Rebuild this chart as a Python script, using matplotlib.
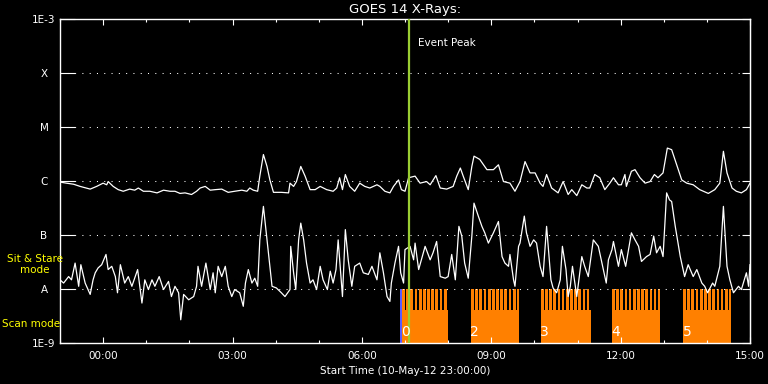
import matplotlib
matplotlib.use('Agg')
import matplotlib.pyplot as plt
import matplotlib.transforms as mtransforms
import numpy as np

# time in minutes after start time 10-May-12 23:00:00, flux as log10(W/m^2)
t_long = [0, 9, 19, 28, 42, 51, 60, 65, 67, 74, 81, 88, 97, 104, 109, 116, 125, 135, 144, 153, 160,
          167, 174, 183, 190, 195, 202, 209, 216, 225, 234, 243, 253, 260, 264, 269, 275, 278, 283, 288, 292, 297, 308, 318,
          320, 325, 329, 335, 341, 348, 355, 362, 371, 380, 385, 389, 393, 397, 403, 410, 417, 424, 431, 441, 445, 452, 459, 464, 471, 475, 480,
          485, 494, 501, 510, 515, 523, 529, 538, 547, 552, 557, 561, 568, 573, 576, 584, 594, 603, 610, 617, 626, 633, 640,
          647, 654, 661, 668, 672, 677, 684, 693, 700, 707, 712, 719, 726, 733, 737, 744, 751, 758, 765, 770, 777, 781, 786, 788, 795, 800,
          807, 814, 821, 827, 832, 839, 845, 851, 858, 865, 872, 881, 890, 902, 911, 918, 923, 928, 935, 941, 948, 955, 960]
log_long = [-6.02, -6.04, -6.06, -6.10, -6.15, -6.10, -6.04, -6.07, -6.01, -6.10, -6.16, -6.19, -6.15, -6.17, -6.13, -6.19, -6.19, -6.22, -6.17, -6.19, -6.19,
            -6.23, -6.22, -6.25, -6.19, -6.13, -6.10, -6.17, -6.16, -6.15, -6.21, -6.19, -6.17, -6.19, -6.13, -6.17, -6.19, -5.91, -5.51, -5.73, -5.98, -6.21, -6.21, -6.22,
            -6.04, -6.10, -6.01, -5.73, -5.91, -6.16, -6.16, -6.10, -6.16, -6.19, -6.13, -5.94, -6.16, -5.88, -6.10, -6.19, -6.04, -6.10, -6.13, -6.07, -6.10, -6.19, -6.22, -6.10, -5.98, -6.16, -6.19,
            -5.94, -5.91, -6.04, -6.01, -6.07, -5.90, -6.13, -6.15, -6.10, -5.91, -5.76, -5.91, -6.16, -5.73, -5.54, -5.60, -5.79, -5.79, -5.70, -6.01, -6.04, -6.19, -6.01,
            -5.64, -5.85, -5.85, -6.04, -6.10, -5.88, -6.13, -6.22, -6.01, -6.25, -6.16, -6.27, -6.07, -6.13, -6.13, -5.88, -5.94, -6.16, -6.04, -5.94, -6.07, -6.07, -5.88, -6.10, -5.82, -5.79,
            -5.94, -6.04, -6.01, -5.88, -5.94, -5.85, -5.39, -5.42, -5.70, -5.98, -6.04, -6.07, -6.16, -6.23, -6.16, -6.04, -5.45, -5.85, -6.13, -6.19, -6.22, -6.16, -6.04]

t_short = [0, 5, 12, 16, 21, 26, 29, 35, 39, 42, 46, 49, 53, 58, 64, 67, 72, 77, 80, 84, 90, 95, 100, 108, 114, 118, 123, 128, 132, 138, 144, 151, 155, 160,
           165, 168, 172, 179, 186, 190, 192, 197, 203, 209, 213, 216, 220, 225, 230, 234, 239, 243, 250, 255, 258, 262, 267, 271, 275, 278, 283, 288, 292, 295, 301, 308, 313, 320,
           321, 325, 328, 332, 335, 339, 343, 348, 352, 357, 362, 366, 372, 376, 380, 384, 387, 393, 397, 401, 406, 410, 417, 422, 429, 434, 441, 445, 450, 455, 459, 461, 466, 471, 474, 478,
           480, 487, 492, 494, 499, 508, 515, 519, 524, 529, 536, 540, 545, 550, 555, 559, 563, 568, 573, 576, 582, 587, 591, 596, 603, 610, 615, 619, 624, 626, 631, 633, 638,
           640, 646, 649, 654, 659, 663, 668, 672, 677, 683, 686, 691, 696, 699, 704, 707, 710, 713, 719, 726, 730, 735, 742, 749, 754, 760, 763, 768, 770, 777, 781, 787, 795, 800,
           805, 809, 816, 821, 826, 830, 835, 839, 844, 848, 851, 856, 863, 869, 874, 881, 886, 893, 897, 901, 908, 911, 918, 923, 928, 932, 937, 944, 948, 955, 958, 960]
log_short = [-7.83, -7.89, -7.77, -7.83, -7.52, -7.95, -7.55, -7.89, -8.01, -8.10, -7.83, -7.70, -7.61, -7.55, -7.36, -7.64, -7.58, -7.77, -8.07, -7.55, -7.89, -7.77, -7.95, -7.64, -8.26, -7.83, -8.01, -7.83, -7.95, -7.77, -8.01, -7.86, -8.14, -7.95,
             -8.07, -8.57, -8.10, -8.20, -8.14, -7.95, -7.58, -7.95, -7.52, -8.01, -7.70, -8.07, -7.58, -7.77, -7.58, -7.95, -8.14, -8.01, -8.07, -8.32, -7.89, -7.64, -7.89, -7.80, -7.95, -7.09, -6.47, -7.09, -7.58, -7.95, -7.98, -8.07, -8.14, -8.01,
             -7.21, -7.70, -8.01, -7.09, -6.78, -7.09, -7.52, -7.89, -7.83, -8.01, -7.58, -7.83, -8.01, -7.67, -7.89, -7.64, -7.09, -8.14, -6.90, -7.46, -7.95, -7.58, -7.52, -7.70, -7.73, -7.58, -7.83, -7.33, -7.70, -8.14, -8.23, -7.89, -7.52, -7.21, -7.70, -7.89,
             -7.27, -7.21, -7.46, -7.15, -7.64, -7.21, -7.46, -7.33, -7.12, -7.77, -7.80, -7.77, -7.36, -7.83, -6.84, -7.02, -7.52, -7.80, -7.02, -6.41, -6.65, -6.84, -6.96, -7.15, -6.96, -6.75, -7.40, -7.52, -7.58, -7.36, -7.83, -7.95, -7.21,
             -7.15, -6.65, -6.96, -7.21, -7.09, -7.15, -7.58, -7.77, -6.84, -7.83, -7.98, -8.07, -7.83, -7.21, -7.64, -8.14, -7.95, -7.58, -8.14, -7.40, -7.58, -7.77, -7.09, -7.21, -7.52, -7.89, -7.46, -7.27, -7.12, -7.58, -7.27, -7.58, -6.96, -7.09,
             -7.21, -7.49, -7.40, -7.36, -7.02, -7.33, -7.21, -7.40, -6.22, -6.35, -6.38, -6.84, -7.40, -7.77, -7.55, -7.77, -7.64, -7.89, -7.95, -8.07, -7.89, -7.95, -7.58, -6.47, -7.58, -7.83, -8.07, -7.95, -8.01, -7.70, -7.95, -7.55]

event_peak = 486
sit_stare = (473, 477)
scan_starts = [476, 572, 669, 768, 867]
scan_ends = [540, 639, 739, 835, 934]
scan_labels = ['0', '2', '3', '4', '5']

time_ticks = [60, 240, 420, 600, 780, 960]
time_labels = ['00:00', '03:00', '06:00', '09:00', '12:00', '15:00']
level_vals = [1e-9, 1e-8, 1e-7, 1e-6, 1e-5, 1e-4, 1e-3]
level_labels = ['1E-9', 'A', 'B', 'C', 'M', 'X', '1E-3']

orange = '#ff8000'
blue = '#5a5aff'
green = '#9acd32'
yellow = '#ffff00'

fig = plt.figure(figsize=(7.68, 3.84), dpi=100, facecolor='black')
ax = fig.add_axes([60 / 768, 41 / 384, 690 / 768, 324 / 384], facecolor='black')
trans = mtransforms.blended_transform_factory(ax.transData, ax.transAxes)

# scan mode blocks and sit & stare comb
ax.axvspan(sit_stare[0], sit_stare[1], ymin=0, ymax=0.167, color=blue, lw=0, zorder=1)
for s, e, lab in zip(scan_starts, scan_ends, scan_labels):
    ax.axvspan(s, e, ymin=0, ymax=0.102, color=orange, lw=0, zorder=1, antialiased=False)
    for st in np.arange(s, e - 1, 5.8):
        ax.axvspan(st, min(st + 3.8, e), ymin=0.1, ymax=0.167, color=orange, lw=0,
                   zorder=1, antialiased=False)
    ax.text(s - 1, 0.033, lab, transform=trans, color='white', fontsize=10,
            ha='left', va='center', zorder=4)

ax.axvline(event_peak, color=green, lw=1.6, zorder=3)
ax.text(event_peak + 12, 0.926, 'Event Peak', transform=trans, color='white',
        fontsize=7.5, va='center')

ax.plot(t_long, 10 ** np.array(log_long), color='white', lw=0.9, zorder=2)
ax.plot(t_short, 10 ** np.array(log_short), color='white', lw=0.9, zorder=2)

ax.set_yscale('log')
ax.set_ylim(1e-9, 1e-3)
ax.set_xlim(0, 960)

ax.set_yticks(level_vals)
ax.set_yticklabels(level_labels)
ax.yaxis.set_minor_locator(matplotlib.ticker.NullLocator())
ax.tick_params(axis='y', which='major', direction='in', length=11, width=0.8,
               color='white', labelcolor='white', labelsize=7.5, pad=11.5)
for lab in ax.get_yticklabels():
    lab.set_horizontalalignment('center')
sec = ax.secondary_yaxis('right')
sec.set_yticks(level_vals)
sec.yaxis.set_minor_locator(matplotlib.ticker.NullLocator())
sec.tick_params(direction='in', length=6, width=0.8, color='white', labelright=False)
sec.spines['right'].set_color('white')

ax.set_xticks(time_ticks)
ax.set_xticklabels(time_labels)
ax.set_xticks(np.arange(0, 961, 60), minor=True)
ax.tick_params(axis='x', which='both', direction='in', top=True, color='white',
               labelcolor='white', labelsize=7.5, width=0.8, pad=6)
ax.tick_params(axis='x', which='major', length=4.5)
ax.tick_params(axis='x', which='minor', length=2.5)

for lv in level_vals[1:-1]:
    ax.axhline(lv, color='white', lw=0.75, linestyle=(0, (1, 6)), zorder=1.5)

for sp in ax.spines.values():
    sp.set_color('white')
    sp.set_linewidth(1)

ax.set_title('GOES 14 X-Rays:', color='white', fontsize=9.5, pad=4)
ax.set_xlabel('Start Time (10-May-12 23:00:00)', color='white', fontsize=7.5, labelpad=3)

fig.text(35 / 768, 1 - 264.5 / 384, 'Sit & Stare\nmode', color=yellow, fontsize=7.5,
         ha='center', va='center', linespacing=1.2)
fig.text(2 / 768, 1 - 324 / 384, 'Scan mode', color=yellow, fontsize=7.5,
         ha='left', va='center')

plt.savefig('out.png', dpi=100, facecolor='black')
